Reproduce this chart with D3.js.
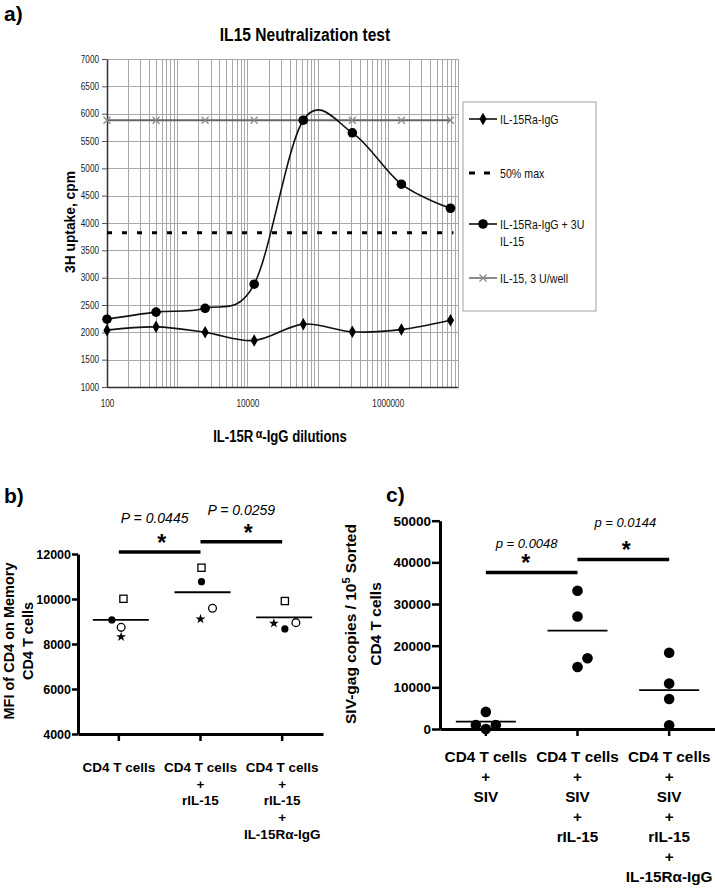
<!DOCTYPE html>
<html>
<head>
<meta charset="utf-8">
<script src="https://cdn.jsdelivr.net/npm/d3@7"></script>
<style>
  body { margin: 0; background: #fff; }
  svg { display: block; font-family: Arial, "Liberation Sans", Helvetica, sans-serif; }
</style>
</head>
<body>
<svg id="fig" width="715" height="888"></svg>
<script>
// ---- a) IL15 neutralization test ----
var dilutions = [100, 500, 2500, 12500, 62500, 312500, 1562500, 7812500];
var igG = [2040, 2100, 2000, 1850, 2150, 2010, 2050, 2220];
var igGPlusIL15 = [2240, 2370, 2440, 2880, 5880, 5650, 4710, 4270];
var il15Only = [5880, 5880, 5880, 5880, 5880, 5880, 5880, 5880];
var halfMax = 3820;
var aYTicks = [1000, 1500, 2000, 2500, 3000, 3500, 4000, 4500, 5000, 5500, 6000, 6500, 7000];
var aXTicks = [100, 10000, 1000000];
var aLegend = [['IL-15Ra-IgG'], ['50% max'], ['IL-15Ra-IgG + 3U', 'IL-15'], ['IL-15, 3 U/well']];

// ---- b) MFI of CD4 ----
var bCategories = [['CD4 T cells'], ['CD4 T cells', '+', 'rIL-15'], ['CD4 T cells', '+', 'rIL-15', '+', 'IL-15R\u03b1-IgG']];
var bFilled = [9070, 10770, 8670];
var bSquare = [10010, 11390, 9910];
var bOpen = [8740, 9590, 8950];
var bStar = [8320, 9110, 8920];
var bMeans = [9070, 10300, 9180];
var bTicks = [4000, 6000, 8000, 10000, 12000];
var bPvalues = ['P = 0.0445', 'P = 0.0259'];
var bSigLevels = [12090, 12550];

// ---- c) SIV-gag copies ----
var cCategories = [['CD4 T cells', '+', 'SIV'], ['CD4 T cells', '+', 'SIV', '+', 'rIL-15'],
  ['CD4 T cells', '+', 'SIV', '+', 'rIL-15', '+', 'IL-15R\u03b1-IgG']];
var cValues = [[4100, 950, 950, 0], [33200, 27000, 17000, 14900], [18300, 10900, 7200, 900]];
var cMeans = [1750, 23600, 9350];
var cTicks = [0, 10000, 20000, 30000, 40000, 50000];
var cPvalues = ['p = 0.0048', 'p = 0.0144'];
var cSigLevels = [37580, 40700];

var svg = d3.select('#fig');
var NARROW = 0.82; // panel a was squeezed horizontally

function ntext(g, x, y, txt, size, weight, anchor) {
  return g.append('text')
    .attr('transform', 'translate(' + x + ',' + y + ') scale(' + NARROW + ',1)')
    .attr('font-size', size).attr('font-weight', weight || 'normal')
    .attr('text-anchor', anchor || 'start').text(txt);
}

// ================= panel a =================
(function () {
  var g = svg.append('g');
  var x = d3.scaleLog().domain([100, 1e7]).range([107, 458]);
  var y = d3.scaleLinear().domain([1000, 7000]).range([387, 59]);

  g.append('text').attr('x', 4).attr('y', 21).attr('font-size', 21).attr('font-weight', 'bold').text('a)');
  ntext(g, 305, 41, 'IL15 Neutralization test', 19, 'bold', 'middle');

  // grid
  g.append('g').selectAll('line').data(x.ticks()).join('line')
    .attr('x1', function (d) { return Math.round(x(d)) + 0.5; })
    .attr('x2', function (d) { return Math.round(x(d)) + 0.5; })
    .attr('y1', y(7000)).attr('y2', y(1000))
    .attr('stroke', '#a8a8a8').attr('stroke-width', 1);
  g.append('g').selectAll('line').data(aYTicks).join('line')
    .attr('x1', x(100)).attr('x2', x(1e7))
    .attr('y1', function (d) { return Math.round(y(d)) + 0.5; })
    .attr('y2', function (d) { return Math.round(y(d)) + 0.5; })
    .attr('stroke', '#a8a8a8').attr('stroke-width', 1);

  var yAxis = g.append('g').attr('transform', 'translate(107,0)')
    .call(d3.axisLeft(y).tickValues(aYTicks).tickFormat(d3.format('d')).tickSize(5).tickSizeOuter(0).tickPadding(3));
  yAxis.select('.domain').attr('stroke', '#333').attr('stroke-width', 1.5);
  yAxis.selectAll('.tick line').attr('stroke', '#555');
  yAxis.selectAll('.tick text').attr('font-size', 10).attr('font-family', 'Arial, "Liberation Sans", sans-serif')
    .attr('x', -8 / NARROW).attr('transform', 'scale(' + NARROW + ',1)').attr('fill', '#222');

  var xAxis = g.append('g').attr('transform', 'translate(0,387)')
    .call(d3.axisBottom(x).tickValues(aXTicks).tickFormat(d3.format('d')).tickSize(0).tickPadding(13));
  xAxis.select('.domain').attr('stroke', '#333').attr('stroke-width', 1.5);
  xAxis.selectAll('.tick text').attr('font-size', 10).attr('font-family', 'Arial, "Liberation Sans", sans-serif')
    .attr('transform', 'scale(' + NARROW + ',1)').attr('fill', '#222');

  // axis titles
  g.append('text').attr('transform', 'translate(75,222) rotate(-90)')
    .attr('font-size', 13.8).attr('font-weight', 'bold').attr('text-anchor', 'middle').text('3H uptake, cpm');
  var xt = ntext(g, 280, 442, '', 16, 'bold', 'middle');
  xt.append('tspan').text('IL-15R');
  xt.append('tspan').attr('dx', 3).attr('font-size', 13).attr('baseline-shift', '35%').text('\u03b1');
  xt.append('tspan').text('-IgG dilutions');

  // 50% max
  g.append('line').attr('x1', x(dilutions[0])).attr('x2', x(dilutions[dilutions.length - 1]) + 3)
    .attr('y1', y(halfMax)).attr('y2', y(halfMax))
    .attr('stroke', '#000').attr('stroke-width', 3).attr('stroke-dasharray', '5,10');

  var straight = d3.line().x(function (d, i) { return x(dilutions[i]); }).y(function (d) { return y(d); });
  var smooth = d3.line().x(function (d, i) { return x(dilutions[i]); }).y(function (d) { return y(d); })
    .curve(d3.curveCardinal.tension(0));

  // IL-15 only
  g.append('path').attr('d', straight(il15Only)).attr('fill', 'none').attr('stroke', '#666').attr('stroke-width', 2);
  var cross = 'M-3.5,-3.5L3.5,3.5M-3.5,3.5L3.5,-3.5';
  g.append('g').selectAll('path').data(il15Only).join('path')
    .attr('transform', function (d, i) { return 'translate(' + x(dilutions[i]) + ',' + y(d) + ')'; })
    .attr('d', cross).attr('stroke', '#888').attr('stroke-width', 1.2).attr('fill', 'none');

  // IL-15Ra-IgG
  g.append('path').attr('d', smooth(igG)).attr('fill', 'none').attr('stroke', '#111').attr('stroke-width', 1.6);
  var diamond = d3.symbol().type(d3.symbolDiamond).size(45);
  g.append('g').selectAll('path').data(igG).join('path')
    .attr('transform', function (d, i) { return 'translate(' + x(dilutions[i]) + ',' + y(d) + ')'; })
    .attr('d', diamond).attr('fill', '#000');

  // IL-15Ra-IgG + 3U IL-15
  g.append('path').attr('d', smooth(igGPlusIL15)).attr('fill', 'none').attr('stroke', '#111').attr('stroke-width', 1.6);
  g.append('g').selectAll('circle').data(igGPlusIL15).join('circle')
    .attr('cx', function (d, i) { return x(dilutions[i]); }).attr('cy', function (d) { return y(d); })
    .attr('r', 4.8).attr('fill', '#000');

  // legend
  var lg = g.append('g');
  lg.append('rect').attr('x', 463).attr('y', 102).attr('width', 133).attr('height', 209)
    .attr('fill', '#fff').attr('stroke', '#b0b0b0').attr('stroke-width', 1.2);
  var ly = [119, 173, 224, 278];
  aLegend.forEach(function (lines, i) {
    var yy = ly[i];
    if (i === 1) {
      lg.append('line').attr('x1', 469).attr('x2', 492).attr('y1', yy).attr('y2', yy)
        .attr('stroke', '#000').attr('stroke-width', 3).attr('stroke-dasharray', '6,9');
    } else {
      lg.append('line').attr('x1', 469).attr('x2', 497).attr('y1', yy).attr('y2', yy)
        .attr('stroke', i === 3 ? '#666' : '#111').attr('stroke-width', i === 3 ? 1.5 : 1.6);
    }
    if (i === 0) lg.append('path').attr('transform', 'translate(483,' + yy + ')').attr('d', diamond).attr('fill', '#000');
    if (i === 2) lg.append('circle').attr('cx', 483).attr('cy', yy).attr('r', 4.8).attr('fill', '#000');
    if (i === 3) lg.append('path').attr('transform', 'translate(483,' + yy + ')').attr('d', cross)
      .attr('stroke', '#888').attr('stroke-width', 1.2);
    lines.forEach(function (t, k) { ntext(lg, 500, yy + 4.5 + k * 17.5, t, 13, 'normal', 'start').attr('fill', '#111'); });
  });
})();

// ================= dot plots (b, c) =================
function styleAxis(sel, fontSize) {
  sel.select('.domain').attr('stroke', '#000').attr('stroke-width', 3);
  sel.selectAll('.tick line').attr('stroke', '#000').attr('stroke-width', 2.5);
  sel.selectAll('.tick text').attr('font-size', fontSize).attr('font-weight', 'bold')
    .attr('font-family', 'Arial, "Liberation Sans", sans-serif').attr('fill', '#000');
}

function categoryLabels(g, x, cats, y0, step, size) {
  cats.forEach(function (lines, i) {
    var t = g.append('text').attr('text-anchor', 'middle').attr('font-size', size).attr('font-weight', 'bold');
    lines.forEach(function (line, k) {
      t.append('tspan').attr('x', x(i) + x.bandwidth() / 2).attr('y', y0 + k * step).text(line);
    });
  });
}

function sigBar(g, x, y, from, to, level, label, starDx, textDx, textRise, fontSize) {
  var cx = function (i) { return x(i) + x.bandwidth() / 2; };
  var x1 = cx(from), x2 = cx(to), mid = (x1 + x2) / 2;
  g.append('line').attr('x1', x1).attr('x2', x2).attr('y1', y(level)).attr('y2', y(level))
    .attr('stroke', '#000').attr('stroke-width', 3.5);
  g.append('text').attr('x', mid + starDx).attr('y', y(level) - 1).attr('text-anchor', 'middle')
    .attr('font-size', 23).attr('font-weight', 'bold').text('*');
  g.append('text').attr('x', mid + textDx).attr('y', y(level) - textRise).attr('text-anchor', 'middle')
    .attr('font-size', fontSize).attr('font-style', 'italic').text(label);
}

// ---- panel b ----
(function () {
  var g = svg.append('g');
  var x = d3.scaleBand().domain(d3.range(bCategories.length)).range([78, 323]);
  var y = d3.scaleLinear().domain([4000, 12000]).range([734, 554]);
  var cx = function (i) { return x(i) + x.bandwidth() / 2; };

  g.append('text').attr('x', 4).attr('y', 503).attr('font-size', 21).attr('font-weight', 'bold').text('b)');

  var ya = g.append('g').attr('transform', 'translate(78,0)')
    .call(d3.axisLeft(y).tickValues(bTicks).tickFormat(d3.format('d')).tickSize(6).tickSizeOuter(0).tickPadding(1));
  styleAxis(ya, 12.5);
  var xa = g.append('g').attr('transform', 'translate(0,734)')
    .call(d3.axisBottom(x).tickSize(7).tickSizeOuter(0).tickFormat(''));
  styleAxis(xa, 12);

  var yt = g.append('text').attr('transform', 'translate(0,641) rotate(-90)')
    .attr('text-anchor', 'middle').attr('font-size', 14.5).attr('font-weight', 'bold');
  yt.append('tspan').attr('x', 0).attr('y', 14).text('MFI of CD4 on Memory');
  yt.append('tspan').attr('x', 0).attr('y', 33).text('CD4 T cells');

  categoryLabels(g, x, bCategories, 772, 16.7, 13.5);

  // jitter offsets (px) as seen in the figure
  var jit = { filled: [-7, 1, 2.7], square: [4.6, 1, 2.7], open: [2.3, 12, 13.7], star: [2.3, 0, -8.3] };

  g.append('g').selectAll('circle.f').data(bFilled).join('circle')
    .attr('cx', function (d, i) { return cx(i) + jit.filled[i]; }).attr('cy', function (d) { return y(d); })
    .attr('r', 3.6).attr('fill', '#000');
  g.append('g').selectAll('rect').data(bSquare).join('rect')
    .attr('x', function (d, i) { return cx(i) + jit.square[i] - 3.6; }).attr('y', function (d) { return y(d) - 3.6; })
    .attr('width', 7.2).attr('height', 7.2).attr('fill', '#fff').attr('stroke', '#000').attr('stroke-width', 1.3);
  g.append('g').selectAll('circle.o').data(bOpen).join('circle')
    .attr('cx', function (d, i) { return cx(i) + jit.open[i]; }).attr('cy', function (d) { return y(d); })
    .attr('r', 3.9).attr('fill', '#fff').attr('stroke', '#000').attr('stroke-width', 1.3);
  var star = d3.symbol().type(d3.symbolStar).size(30);
  g.append('g').selectAll('path').data(bStar).join('path')
    .attr('transform', function (d, i) { return 'translate(' + (cx(i) + jit.star[i]) + ',' + y(d) + ')'; })
    .attr('d', star).attr('fill', '#000');

  g.append('g').selectAll('line').data(bMeans).join('line')
    .attr('x1', function (d, i) { return cx(i) + 2 - 28; }).attr('x2', function (d, i) { return cx(i) + 2 + 28; })
    .attr('y1', function (d) { return y(d); }).attr('y2', function (d) { return y(d); })
    .attr('stroke', '#000').attr('stroke-width', 1.8);

  sigBar(g, x, y, 0, 1, bSigLevels[0], bPvalues[0], 2, -5, 29, 14);
  sigBar(g, x, y, 1, 2, bSigLevels[1], bPvalues[1], 7, 0, 27, 14);
})();

// ---- panel c ----
(function () {
  var g = svg.append('g');
  var x = d3.scaleBand().domain(d3.range(cCategories.length)).range([440, 715]);
  var y = d3.scaleLinear().domain([0, 50000]).range([729, 520.7]);
  var cx = function (i) { return x(i) + x.bandwidth() / 2; };

  g.append('text').attr('x', 386).attr('y', 502).attr('font-size', 21).attr('font-weight', 'bold').text('c)');

  var ya = g.append('g').attr('transform', 'translate(440,0)')
    .call(d3.axisLeft(y).tickValues(cTicks).tickFormat(d3.format('d')).tickSize(8).tickSizeOuter(0).tickPadding(1));
  styleAxis(ya, 13.5);
  var xa = g.append('g').attr('transform', 'translate(0,729)')
    .call(d3.axisBottom(x).tickSize(7).tickSizeOuter(0).tickFormat(''));
  styleAxis(xa, 12);

  var yt = g.append('text').attr('transform', 'translate(0,624) rotate(-90)')
    .attr('text-anchor', 'middle').attr('font-size', 15.5).attr('font-weight', 'bold');
  var l1 = yt.append('tspan').attr('x', 0).attr('y', 355.5);
  l1.append('tspan').text('SIV-gag copies / 10');
  l1.append('tspan').attr('font-size', 11).attr('dy', -6).text('5');
  l1.append('tspan').attr('dy', 6).text(' Sorted');
  yt.append('tspan').attr('x', 0).attr('y', 380.5).text('CD4 T cells');

  categoryLabels(g, x, cCategories, 762, 20, 15.3);

  var jit = [[0, -10, 10, 0], [0, 0, 10, 0], [0, 0, 0, 0]];
  var pts = [];
  cValues.forEach(function (vals, i) { vals.forEach(function (v, k) { pts.push({ i: i, k: k, v: v }); }); });
  g.append('g').selectAll('circle').data(pts).join('circle')
    .attr('cx', function (d) { return cx(d.i) + jit[d.i][d.k]; }).attr('cy', function (d) { return y(d.v); })
    .attr('r', 5.3).attr('fill', '#000');

  g.append('g').selectAll('line').data(cMeans).join('line')
    .attr('x1', function (d, i) { return cx(i) - 30; }).attr('x2', function (d, i) { return cx(i) + 30; })
    .attr('y1', function (d) { return y(d); }).attr('y2', function (d) { return y(d); })
    .attr('stroke', '#000').attr('stroke-width', 1.8);

  sigBar(g, x, y, 0, 1, cSigLevels[0], cPvalues[0], -6, -5, 24, 13);
  sigBar(g, x, y, 1, 2, cSigLevels[1], cPvalues[1], 3, 2, 32, 13);
})();
</script>
</body>
</html>
